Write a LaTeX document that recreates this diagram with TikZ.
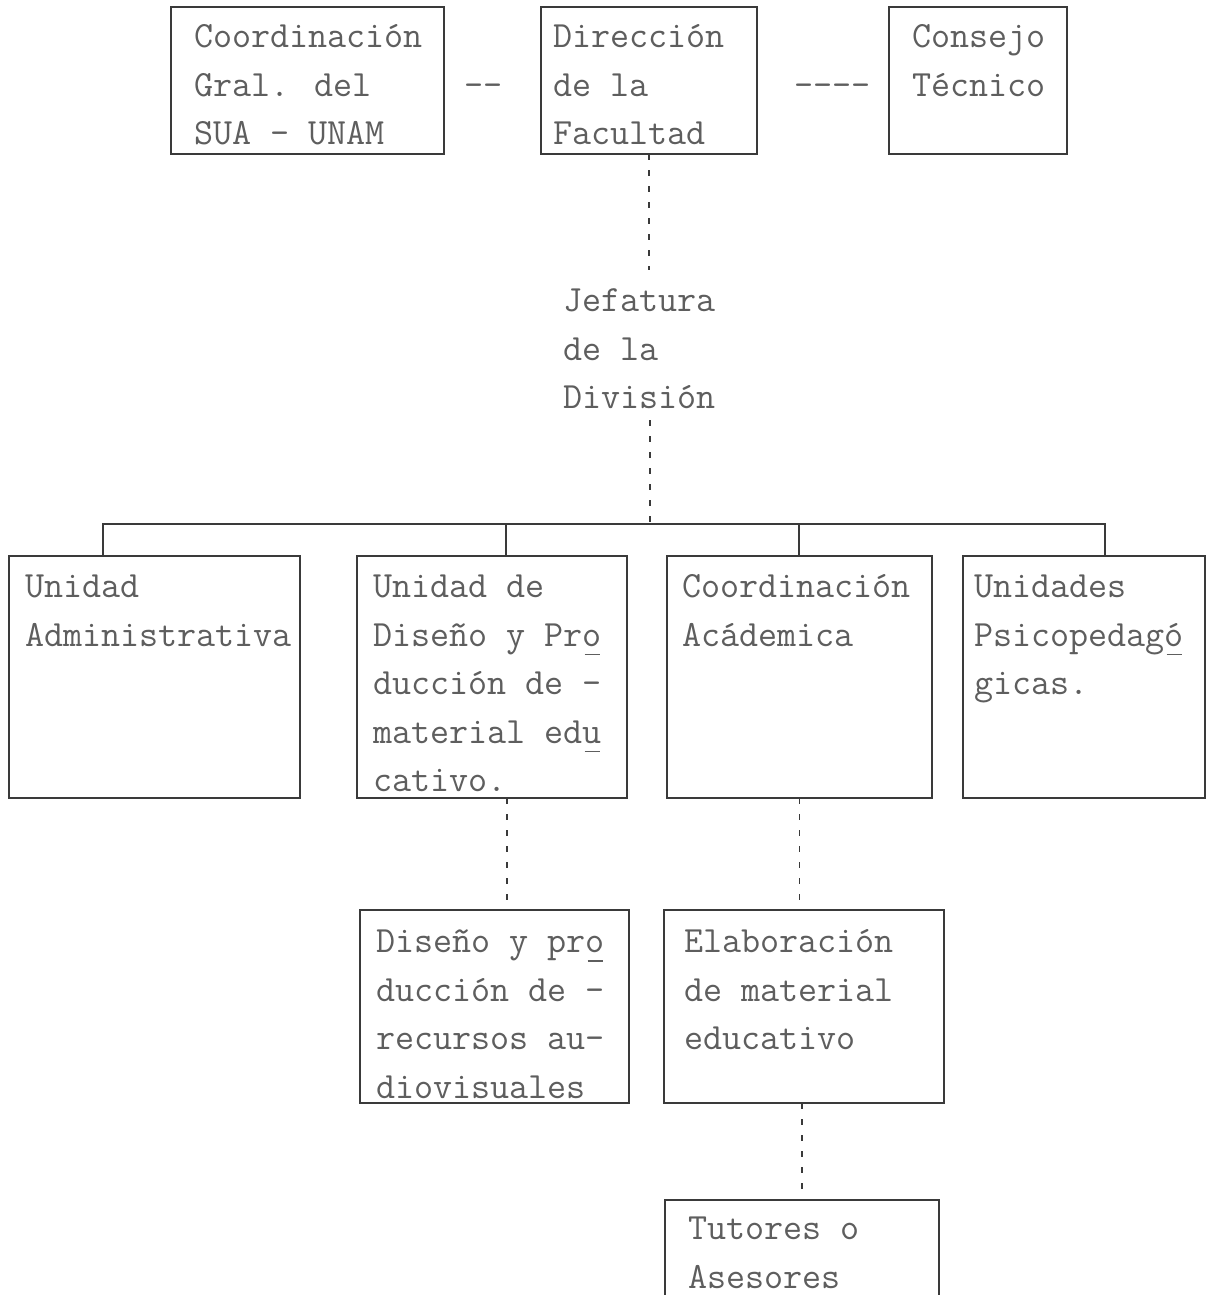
\documentclass[tikz,border=0pt]{standalone}
\usepackage{xcolor}
\definecolor{ink}{HTML}{3A3A3A}
\definecolor{typ}{HTML}{5E5E5E}
\newcommand\ulc[1]{\makebox[0pt][l]{\hspace{2pt}\rule[-9pt]{15pt}{1.6pt}}#1}
\begin{document}
\begin{tikzpicture}[x=1pt,y=-1pt,
  box/.style={draw=ink, line width=1.3pt, rectangle, inner sep=0pt, outer sep=0pt, anchor=north west},
  txt/.style={text=typ, font=\fontsize{37}{48.5}\selectfont\ttfamily, inner sep=0pt, outer sep=0pt, anchor=north west, align=left},
  conn/.style={draw=ink, line width=1.3pt},
  dashconn/.style={draw=ink, line width=1.3pt, dash pattern=on 6pt off 10pt}]
\fill[white] (0,0) rectangle (1209,1295);
\useasboundingbox (0,0) rectangle (1209,1295);

% top row
\node[box, minimum width=273pt, minimum height=147pt] (cg) at (171,7) {};
\node[box, minimum width=216pt, minimum height=147pt] (dir) at (541,7) {};
\node[box, minimum width=178pt, minimum height=147pt] (ct) at (889,7) {};
\node[txt] (tcg) at (194,14) {\strut Coordinación\\Gral. del\\SUA - UNAM};
\node[txt] (tdir) at (553,14) {\strut Dirección\\de la\\Facultad};
\node[txt] (tct) at (912,14) {\strut Consejo\\Técnico};
\node[txt, anchor=base west] (h1) at (464,97) {-\kern0pt-};
\node[txt, anchor=base west] (h2) at (794,97) {-\kern0pt-\kern0pt-\kern0pt-};

% division
\node[txt] (jef) at (563,278) {\strut Jefatura\\de la\\División};
\coordinate (j1) at (650,270);
\coordinate (j2) at (650,420);
\draw[dashconn] (dir.south) -- (dir.south |- j1);
\draw[dashconn] (j2) -- (650,524);

% second row
\node[box, minimum width=291pt, minimum height=242pt] (ua) at (9,556) {};
\node[box, minimum width=270pt, minimum height=242pt] (udp) at (357,556) {};
\node[box, minimum width=265pt, minimum height=242pt] (ca) at (667,556) {};
\node[box, minimum width=242pt, minimum height=242pt] (up) at (963,556) {};
\node[txt] (tua) at (25,564) {\strut Unidad\\Administrativa};
\node[txt] (tudp) at (373,564) {\strut Unidad de\\Diseño y Pr\ulc{o}\\ducción de -\\material ed\ulc{u}\\cativo.};
\node[txt] (tca) at (682,564) {\strut Coordinación\\Acádemica};
\node[txt] (tup) at (974,564) {\strut Unidades\\Psicopedag\ulc{ó}\\gicas.};

\coordinate (busA) at (103,524);
\coordinate (busB) at (506,524);
\coordinate (busC) at (799,524);
\coordinate (busD) at (1105,524);
\draw[conn] (ua.north -| busA) -- (busA) -- (busD) -- (up.north -| busD);
\draw[conn] (busB) -- (udp.north -| busB);
\draw[conn] (busC) -- (ca.north -| busC);

% third row
\node[box, minimum width=269pt, minimum height=193pt] (dpr) at (360,910) {};
\node[box, minimum width=280pt, minimum height=193pt] (em) at (664,910) {};
\node[txt] (tdpr) at (376,919) {\strut Diseño y pr\ulc{o}\\ducción de -\\recursos au-\\diovisuales};
\node[txt] (tem) at (684,919) {\strut Elaboración\\de material\\educativo};
\coordinate (be) at (507,0);
\draw[dashconn] (udp.south -| be) -- (dpr.north -| be);
\draw[dashconn] (ca.south) -- (ca.south |- em.north);

% bottom
\node[box, minimum width=274pt, minimum height=130pt] (ta) at (665,1200) {};
\node[txt] (tta) at (688,1206) {\strut Tutores o\\Asesores};
\draw[dashconn] (em.south -| ta.north) -- (ta.north);
\end{tikzpicture}
\end{document}
